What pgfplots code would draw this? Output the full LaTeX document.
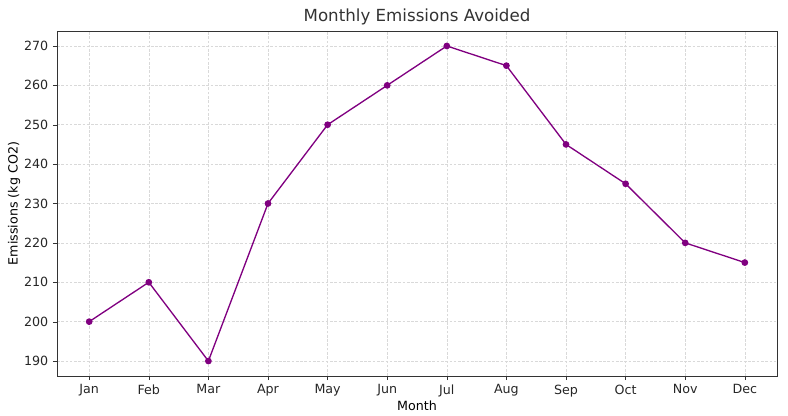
\documentclass[border=0pt]{standalone}
\usepackage{pgfplots}
\pgfplotsset{compat=1.18}
\usepackage{fontspec}
\setmainfont{DejaVu Sans}
\definecolor{pur}{RGB}{128,0,128}
\begin{document}
\begin{tikzpicture}
\useasboundingbox (-42.75pt,-29.25pt) rectangle (548.25pt,282pt);
\begin{axis}[
  scale only axis, width=540pt, height=258.75pt,
  at={(0,0)}, anchor=south west,
  xmin=-0.54, xmax=11.54, ymin=186.2, ymax=273.8,
  xtick={0,...,11},
  xticklabels={Jan,Feb,Mar,Apr,May,Jun,Jul,Aug,Sep,Oct,Nov,Dec},
  ytick={190,200,...,270},
  xtick pos=left, ytick pos=left,
  /pgf/number format/assume math mode=true,
  ticklabel style={font=\fontsize{9.5}{11}\selectfont, color=black!85},
  label style={font=\fontsize{9.5}{11}\selectfont},
  xlabel={Month}, ylabel={Emissions (kg CO2)},
  xlabel style={yshift=4pt}, ylabel style={yshift=-4pt},
  title={Monthly Emissions Avoided},
  title style={font=\fontsize{12.5}{14}\selectfont, color=black!80, yshift=-5pt},
  grid=major, major grid style={dash pattern=on 2pt off 1.2pt, gray!30, line width=0.35pt},
  axis line style={black!80},
  tick style={black!80}, tick align=outside, major tick length=3pt,
]
\addplot[pur, line width=1pt, mark=*, mark size=2pt] coordinates {
(0,200)(1,210)(2,190)(3,230)(4,250)(5,260)(6,270)(7,265)(8,245)(9,235)(10,220)(11,215)};
\end{axis}
\end{tikzpicture}
\end{document}
